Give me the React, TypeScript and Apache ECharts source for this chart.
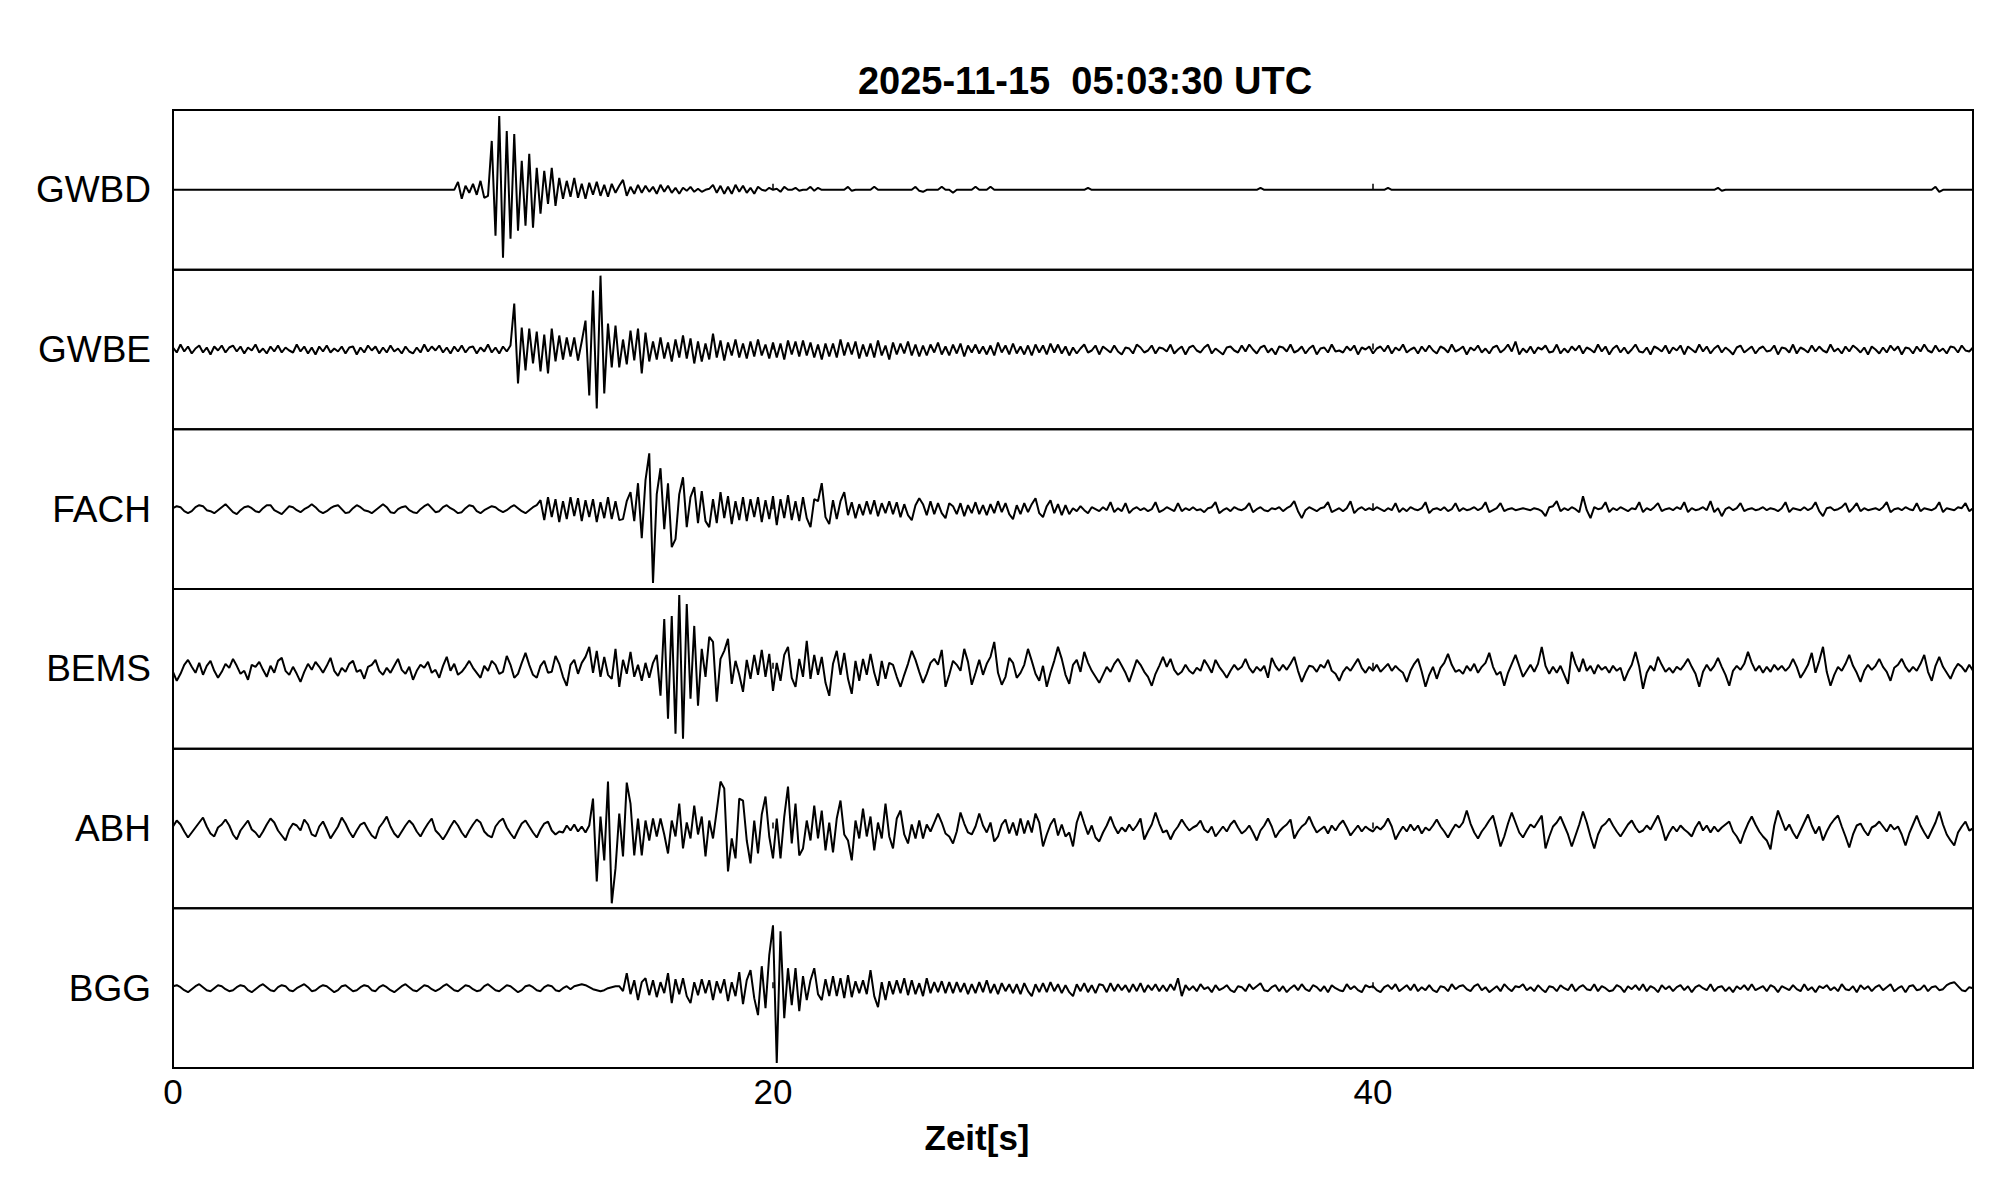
import React, { useEffect, useRef } from "react";
import * as echarts from "echarts";

// ---- texts ----
const TITLE = "2025-11-15  05:03:30 UTC";
const X_LABEL = "Zeit[s]";
const STATIONS = ["GWBD", "GWBE", "FACH", "BEMS", "ABH", "BGG"];

// ---- axis ----
const X_MIN = 0;
const X_MAX = 60;
const X_TICK = 20;
const Y_HALF = 80; // amplitude range of each trace panel (±)
const SAMPLE_STEP = 0.125; // seconds between samples

// ---- traces (one sample every 0.125 s, 8 per second, from 0 s to 60 s) ----
const GWBD = [
  0,0,0,0,0,0,0,0, 0,0,0,0,0,0,0,0,
  0,0,0,0,0,0,0,0, 0,0,0,0,0,0,0,0,
  0,0,0,0,0,0,0,0, 0,0,0,0,0,0,0,0,
  0,0,0,0,0,0,0,0, 0,0,0,0,0,0,0,0,
  0,0,0,0,0,0,0,0, 0,0,0,0,8,-9,4,-3,
  6,-5,9,-8,-6,49,-46,74, -68,59,-49,56,-41,29,-36,36,
  -38,22,-24,19,-14,22,-16,12, -9,9,-7,12,-8,6,-9,7,
  -5,8,-6,5,-7,6,-3,4, 10,-6,3,-4,5,-3,4,-2,
  3,-4,5,-2,4,-3,2,-4, 2,-1,3,-2,1,-2,0,1,
  5,-3,4,-4,3,-4,5,-2, 4,-3,2,-4,3,0,-1,2,
  0,1,-2,3,0,0,2,-1, 0,0,3,-1,2,0,0,0,
  0,0,0,0,3,-1,0,0, 0,0,0,3,0,0,0,0,
  0,0,0,0,0,0,3,-1, -2,0,0,0,0,3,0,0,
  -3,0,0,0,0,0,3,0, 0,0,3,0,0,0,0,0,
  0,0,0,0,0,0,0,0, 0,0,0,0,0,0,0,0,
  0,0,0,0,2,0,0,0, 0,0,0,0,0,0,0,0,
  0,0,0,0,0,0,0,0, 0,0,0,0,0,0,0,0,
  0,0,0,0,0,0,0,0, 0,0,0,0,0,0,0,0,
  0,0,2,0,0,0,0,0, 0,0,0,0,0,0,0,0,
  0,0,0,0,0,0,0,0, 0,0,0,0,0,0,0,0,
  0,0,0,0,2,0,0,0, 0,0,0,0,0,0,0,0,
  0,0,0,0,0,0,0,0, 0,0,0,0,0,0,0,0,
  0,0,0,0,0,0,0,0, 0,0,0,0,0,0,0,0,
  0,0,0,0,0,0,0,0, 0,0,0,0,0,0,0,0,
  0,0,0,0,0,0,0,0, 0,0,0,0,0,0,0,0,
  0,0,0,0,0,0,0,0, 0,0,0,0,2,-1,0,0,
  0,0,0,0,0,0,0,0, 0,0,0,0,0,0,0,0,
  0,0,0,0,0,0,0,0, 0,0,0,0,0,0,0,0,
  0,0,0,0,0,0,0,0, 0,0,0,0,0,0,0,0,
  0,0,0,0,0,0,3,-2, 0,0,0,0,0,0,0,0,
  0,
];

const GWBE = [
  2,-3,5,-2,3,-4,1,4, -3,2,-5,3,-1,4,-3,2,
  4,-2,3,-4,2,-1,5,-3, 1,-4,3,-2,4,-3,2,-1,
  -3,5,-2,3,-4,2,-5,3, -2,4,-3,1,-2,3,-4,2,
  3,-5,2,-3,4,-1,3,-4, 2,-3,4,-2,1,-4,3,-2,
  -4,2,-3,5,-2,3,-1,4, -3,2,-4,3,-2,4,-3,2,
  3,-4,2,-2,5,-3,2,-4, 3,-2,4,46,-34,22,-21,21,
  -14,18,-22,15,-24,21,-12,14, -10,12,-7,12,-11,8,29,-46,
  59,-59,74,-44,26,-18,24,-18, 10,-15,19,-11,21,-24,17,-12,
  8,-10,12,-9,7,-12,10,-8, 14,-9,11,-14,8,-12,6,-10,
  16,-8,9,-11,7,-6,10,-8, 6,-9,8,-7,10,-6,5,-9,
  7,-8,6,-10,9,-5,8,-7, 9,-6,7,-8,5,-10,6,-7,
  6,-8,10,-6,7,-5,8,-9, 5,-7,6,-8,9,-6,4,-10,
  7,-5,6,-4,8,-6,5,-7, 4,-6,5,-3,7,-5,3,-6,
  5,-4,6,-7,4,-3,5,-4, 3,-5,4,-6,7,-3,4,-5,
  6,-4,3,-5,4,-6,5,-3, 4,-5,6,-3,5,-4,3,-6,
  2,-4,1,5,-3,-1,4,-5, 3,0,-3,4,-2,-5,2,1,
  -4,5,2,-3,-1,4,-4,2, 1,-2,5,-4,0,3,-5,2,
  4,-1,-3,2,5,-4,1,-2, -5,2,3,-1,-3,4,-2,5,
  0,-4,2,4,-3,1,-5,3, 2,-2,5,-3,-1,3,-4,1,
  4,-5,1,2,-3,5,-2,-1, -3,3,-1,4,-5,2,0,3,
  -4,1,3,-2,4,-4,2,-1, 5,-3,0,2,-4,3,-2,4,
  -1,-4,3,1,-3,5,-2,0, 3,-5,2,-1,4,-3,1,-4,
  2,4,-3,0,5,-2,8,-5, 1,-3,3,-4,2,0,4,-3,
  -2,5,-4,1,-3,3,-1,4, -4,2,0,-3,5,-2,3,-5,
  1,4,-3,2,-4,0,5,-2, -3,2,-5,3,1,-2,4,-4,
  2,-1,4,-5,3,0,-3,5, -2,3,-4,1,4,-3,2,-1,
  -5,2,4,-3,0,3,-4,1, 3,-2,-1,4,-5,2,1,-3,
  5,-4,2,0,-3,4,-2,3, -1,-3,5,-2,1,-4,3,-2,
  4,1,-3,2,-5,3,0,-4, 2,-3,4,-1,3,-5,2,1,
  -4,3,-2,5,-1,-3,4,-2, 1,-4,3,2,-3,4,-1,-2,
  2,
];

const FACH = [
  1,3,2,-2,-4,-2,2,4, 3,-1,-2,-4,-1,2,5,1,
  -3,-5,-1,2,3,1,-2,-3, 1,4,4,-1,-3,-5,-1,3,
  2,-1,-3,0,2,5,2,-2, -4,-2,1,3,4,0,-4,-3,
  1,4,2,-1,-2,-4,-1,2, 5,2,-3,-4,0,2,3,-1,
  -3,-4,0,3,5,1,-3,-2, 2,4,1,-1,-4,-3,1,4,
  3,-2,-4,-1,1,3,2,-1, -3,-1,2,4,1,-2,-4,-1,
  2,4,9,-11,12,-8,10,-13, 8,-10,12,-7,11,-12,9,-8,
  10,-13,7,-9,12,-10,8,-11, -10,8,17,-12,26,-29,29,56,
  -74,15,41,-20,26,-38,-30,15, 32,-18,12,22,-14,18,-12,-18,
  10,-14,17,-9,13,-15,8,-11, 12,-12,10,-8,12,-13,9,-10,
  13,-16,10,-9,14,-11,8,-12, 12,-9,-18,10,8,26,-8,-15,
  9,-10,8,17,-6,7,-9,5, -6,8,-5,9,-7,6,-4,8,
  -5,7,-8,5,-6,-11,4,11, 5,-6,8,-5,6,-4,-9,6,
  3,-5,6,-7,4,-4,7,-5, 4,-6,5,-4,8,-3,6,-5,
  -10,4,-5,6,-3,5,11,-4, -8,3,9,-4,5,-6,4,-5,
  1,-2,3,-1,-4,2,0,-2, 2,-1,7,-3,1,-2,6,-4,
  0,2,-1,1,-2,0,7,-3, -1,2,0,-2,6,-2,1,-1,
  2,-1,0,-3,1,2,7,-4, -1,1,-2,2,0,-1,1,6,
  -3,0,2,-1,-2,1,0,2, -2,1,3,8,-2,-9,-1,2,
  0,-2,1,2,7,-3,-1,1, -2,1,8,-4,0,2,-1,1,
  -1,2,0,-2,1,-1,6,-3, 1,-2,2,0,-1,1,7,-4,
  0,1,-1,2,-2,0,6,-2, 1,-1,0,2,-1,1,7,-3,
  -1,1,6,-2,0,1,-1,0, 1,0,-1,1,0,-2,-7,2,
  3,8,-2,1,-1,2,0,-3, 13,-1,-9,2,0,1,7,-3,
  1,-1,2,0,-2,1,0,7, -3,1,-1,2,6,-2,0,1,
  -1,2,0,7,-3,1,-1,0, 2,-1,8,-3,1,-7,0,2,
  -1,1,6,-2,0,1,-1,0, 2,-1,1,0,-2,1,7,-3,
  1,0,-1,2,-1,1,7,-2, -7,1,2,-1,0,2,6,-3,
  1,6,-2,1,-1,0,1,-1, 2,7,-3,0,1,-1,2,0,
  -1,6,-2,1,0,-1,1,7, -3,1,0,-1,2,1,6,-2,
  1,
];

const BEMS = [
  -3,-12,-5,4,9,2,-4,6, -6,3,8,-2,-9,-3,5,1,
  10,3,-5,-2,-11,4,2,7, -1,-8,3,-4,8,11,-2,-6,
  2,-5,-13,-3,5,-1,7,2, -4,3,11,-2,-7,1,-3,5,
  8,-3,-1,-10,2,4,9,-2, -6,1,-4,3,10,-1,-5,2,
  -11,-2,4,1,7,-4,-1,-9, 3,12,-2,5,-6,-3,2,8,
  1,-4,-9,3,-2,8,4,-5, -3,13,4,-9,-5,6,16,4,
  -6,-9,3,8,-4,-3,13,5, -8,-17,4,9,-5,6,12,22,
  -4,18,-8,12,-6,-10,20,-18, 9,-5,17,-8,4,-12,6,-9,
  6,14,-27,50,-50,53,-65,74, -70,65,-30,43,-37,20,-8,32,
  27,-33,10,18,30,-15,8,-6, -23,9,-10,14,-6,19,-8,15,
  -22,6,-12,14,22,-9,-18,10, -8,28,-10,14,-6,12,-14,-27,
  5,18,-6,16,-10,-25,8,-12, 10,-6,15,-4,-17,8,-10,6,
  4,-8,-18,-6,5,18,9,-3, -14,-5,6,10,4,19,-18,-6,
  8,4,-2,20,7,-16,-4,9, -6,5,12,27,-4,-16,-8,11,
  6,-9,-4,4,20,8,-5,-12, 3,-18,-4,8,22,10,-6,-15,
  4,9,-3,17,6,-2,-8,-14, -6,2,-3,5,10,3,-4,-13,
  -2,9,4,-3,-8,-17,-5,3, 12,2,10,-1,-6,-3,4,-2,
  -5,1,-2,9,3,-4,9,2, -3,-9,-2,4,-1,2,10,1,
  -4,2,-2,3,-9,11,3,-2, 4,-1,5,12,-2,-13,-4,3,
  2,-3,4,1,9,-2,-5,-12, -3,2,-2,4,10,1,-4,2,
  -2,4,-3,1,5,-2,3,-1, -4,-13,-2,5,10,-3,-18,-6,
  2,-10,1,6,15,4,-3,-1, -5,3,-2,5,-4,2,6,16,
  2,-6,-3,-17,-4,5,14,3, -8,-2,4,-3,5,22,3,-5,
  2,-4,3,-6,-15,17,5,-3, 10,-2,3,-5,4,-1,2,-4,
  3,-2,1,-12,-3,4,17,2, -20,-4,3,-2,12,4,-3,1,
  -4,2,-1,4,10,2,-5,-18, -3,4,-2,3,11,2,-6,-17,
  -2,3,-1,5,17,6,-2,3, -4,2,-3,4,-1,3,-2,2,
  10,2,-9,-3,4,16,-4,8, 22,-3,-17,-6,2,-2,5,14,
  3,-4,-13,-2,4,-1,3,10, 2,-3,-12,1,4,10,2,-3,
  2,-2,5,14,-3,-12,3,12, 2,-4,-10,-1,5,2,-3,4,
  -2,
];

const ABH = [
  2,8,4,-3,-9,-4,1,6, 11,2,-5,-8,1,4,9,3,
  -6,-11,-2,3,8,-1,-4,-9, -3,4,10,6,-2,-7,-12,-1,
  5,3,-2,9,4,-6,-8,2, 7,-1,-10,-4,2,11,5,-3,
  -9,-2,4,6,-1,-7,-10,1, 6,12,2,-5,-9,-3,3,8,
  4,-3,-8,-1,5,10,-2,-6, -11,-5,2,8,3,-4,-9,-2,
  4,9,6,-3,-7,-9,2,7, 10,1,-5,-10,-2,5,8,2,
  -4,-9,-1,5,7,-2,-6,-3, -4,3,-2,4,-3,2,-4,3,
  30,-53,12,-32,47,-75,-40,15, -28,46,25,-27,10,-27,8,-12,
  10,-8,10,-6,-25,8,-8,25, -20,6,-10,23,-6,12,-28,8,
  -10,18,47,40,-43,-10,-30,30, 28,-12,-35,8,-25,14,32,-8,
  -30,10,-30,12,42,-15,25,-27, -20,8,-12,23,-10,18,-22,6,
  -24,10,28,-6,-12,-32,8,-10, 20,-8,12,-22,6,-10,25,-8,
  -20,10,18,-6,-15,4,-10,8, -10,4,-3,6,15,6,-5,-8,
  -15,-3,16,5,-4,-6,2,15, 3,-4,6,-13,-8,4,9,-5,
  6,-7,10,-5,8,-4,15,6, -18,-6,4,10,-7,4,-8,-4,
  -18,6,17,5,-6,3,-9,-13, -4,3,12,2,-5,1,-3,4,
  -2,3,10,-11,-3,4,16,5, -4,-2,-11,-3,2,9,3,-2,
  1,3,8,-1,-4,2,-8,-3, 2,-3,4,8,1,-5,-2,3,
  -4,-12,-2,3,10,2,-9,-3, 1,4,9,-10,-3,2,5,12,
  3,-4,-1,2,-5,3,-2,4, 8,1,-7,-2,3,-3,2,-1,
  -3,2,-1,3,10,2,-11,-4, 2,-3,4,-2,3,-5,1,-2,
  3,9,2,-3,-9,-2,4,1, 6,18,5,-4,-10,-3,2,8,
  13,-2,-18,-8,5,16,6,-4, -9,-2,4,1,7,13,-20,-8,
  2,6,12,3,-6,-18,-7,4, 17,6,-8,-20,-6,2,5,10,
  3,-3,-8,-2,4,8,1,-4, -2,3,-1,6,13,2,-12,-4,
  2,-3,3,-1,-4,-8,1,7, -2,3,-4,2,-3,1,4,7,
  -3,-8,-15,-4,5,12,4,-3, -8,-12,-21,3,18,8,-2,4,
  -4,-10,-2,6,14,3,-5,2, -12,-3,4,9,13,2,-8,-19,
  -6,3,5,-2,-7,1,3,7, 2,-3,4,-1,2,-6,-17,-5,
  4,13,3,-4,-10,-2,6,17, 4,-6,-12,-17,-4,2,7,-2,
  0,
];

const BGG = [
  2,3,1,-2,-4,-1,2,4, 1,-2,-3,0,3,2,-1,-3,
  -2,1,3,2,-2,-4,-1,2, 4,1,-2,-3,1,3,2,-2,
  -3,0,2,4,1,-3,-2,1, 3,2,-1,-4,-2,2,3,0,
  -3,-2,1,3,2,-2,-3,1, 3,1,-2,-4,-1,2,4,1,
  -2,-3,0,3,2,-1,-3,-1, 2,4,1,-2,-3,0,3,2,
  -1,-3,-2,2,4,1,-2,-3, 0,3,2,-1,-4,-2,2,3,
  1,-2,-3,1,3,2,-2,-3, 0,2,-1,2,3,4,3,1,
  -1,-2,-3,-2,0,1,2,2, -3,15,-6,8,-12,6,10,-7,
  8,-9,6,-5,15,-15,9,-6, 10,-8,-15,6,-7,9,-5,8,
  -12,7,-5,9,-13,6,-8,16, -16,8,18,-10,-27,22,-20,33,
  63,-75,57,-30,20,-17,20,-23, 12,-12,8,20,-6,-12,9,-8,
  12,-8,10,-10,13,-9,7,-5, 8,-6,18,-8,-19,6,-12,7,
  -6,8,-5,10,-7,8,-6,5, -8,10,-5,6,-4,7,-5,6,
  -5,6,-4,5,-6,4,-5,6, -4,8,-5,4,-6,5,-3,4,
  -5,4,-6,5,-3,-8,4,-4, 5,-4,6,-3,4,-5,3,-4,
  -8,4,-3,5,-4,3,-5,4, 3,-4,5,-3,4,-2,3,-4,
  4,-3,5,-4,3,-2,4,-3, 3,-3,4,-2,10,-8,3,-2,
  2,-3,4,-1,1,-4,3,-2, 0,3,-2,-4,2,1,-3,4,
  -1,2,5,-2,-3,1,3,-3, 2,-4,0,3,-2,4,-1,-3,
  3,1,-3,2,-4,3,0,-2, -3,4,-1,2,-2,-4,3,1,
  2,-2,-4,1,3,-1,4,-3, 0,3,-2,4,-3,1,-2,3,
  -2,-4,2,1,-3,4,-1,2, 3,-1,-3,2,4,-2,1,-4,
  -1,2,-3,4,0,-3,2,1, 4,-2,1,-3,3,-1,-4,2,
  1,-3,3,0,-2,4,-3,1, 3,-1,-2,4,-3,2,0,-3,
  -2,3,1,-4,2,-1,3,-2, 4,-3,2,0,-4,3,-1,2,
  -3,1,3,-2,2,-4,1,3, 0,-2,4,-3,1,2,-3,1,
  -4,2,-1,3,-2,4,-2,0, 2,-3,3,1,-4,2,0,-2,
  3,-1,-3,4,-2,1,-4,2, 0,3,-2,1,-3,4,-1,-2,
  2,-4,3,-1,2,-3,1,3, -2,1,4,-3,0,2,-4,2,
  3,-2,-1,3,-3,1,2,-2, -1,3,5,6,2,-2,-3,1,
  0,
];

const TRACES = [GWBD, GWBE, FACH, BEMS, ABH, BGG];

const FONT = "'Liberation Sans', Arial, Helvetica, sans-serif";

export default function App() {
  const ref = useRef<HTMLDivElement>(null);

  useEffect(() => {
    if (!ref.current) return;
    const chart = echarts.init(ref.current, null, { renderer: "svg" });

    const left = 173;
    const width = 1800;
    const top = 110;
    const panelH = 958 / STATIONS.length;

    const grid = STATIONS.map((_, i) => ({
      left,
      width,
      top: top + i * panelH,
      height: panelH,
      show: true,
      borderColor: "#000",
      borderWidth: 2,
      backgroundColor: "transparent",
      containLabel: false,
    }));

    const xAxis = STATIONS.map((_, i) => ({
      type: "value",
      gridIndex: i,
      min: X_MIN,
      max: X_MAX,
      interval: X_TICK,
      axisLine: { show: false },
      axisTick: { show: true, inside: true, length: 6, lineStyle: { color: "#000", width: 1.5 } },
      axisLabel: {
        show: i === STATIONS.length - 1,
        showMaxLabel: false,
        color: "#000",
        fontSize: 35,
        fontFamily: FONT,
        margin: 6,
      },
      splitLine: { show: false },
    }));

    const yAxis = STATIONS.map((_, i) => ({
      type: "value",
      gridIndex: i,
      min: -Y_HALF,
      max: Y_HALF,
      show: false,
      splitLine: { show: false },
    }));

    const series = TRACES.map((vals, i) => ({
      type: "line",
      name: STATIONS[i],
      xAxisIndex: i,
      yAxisIndex: i,
      data: vals.map((v, k) => [k * SAMPLE_STEP, v]),
      showSymbol: false,
      symbol: "none",
      silent: true,
      lineStyle: { color: "#000", width: 2 },
    }));

    const labels = STATIONS.map((name, i) => ({
      type: "text",
      x: 151,
      y: top + (i + 0.5) * panelH,
      silent: true,
      style: {
        text: name,
        font: `37px ${FONT}`,
        fill: "#000",
        textAlign: "right",
        align: "right",
        textVerticalAlign: "middle",
        verticalAlign: "middle",
      },
    }));

    chart.setOption({
      animation: false,
      backgroundColor: "#fff",
      grid,
      xAxis,
      yAxis,
      series,
      graphic: [
        ...labels,
        {
          type: "text",
          x: 1085,
          y: 81,
          silent: true,
          style: {
            text: TITLE,
            font: `bold 38px ${FONT}`,
            fill: "#000",
            textAlign: "center",
            align: "center",
            textVerticalAlign: "middle",
            verticalAlign: "middle",
          },
        },
        {
          type: "text",
          x: 977,
          y: 1137,
          silent: true,
          style: {
            text: X_LABEL,
            font: `bold 35px ${FONT}`,
            fill: "#000",
            textAlign: "center",
            align: "center",
            textVerticalAlign: "middle",
            verticalAlign: "middle",
          },
        },
      ],
    });

    return () => {
      chart.dispose();
    };
  }, []);

  return (
    <div
      ref={ref}
      style={{ position: "fixed", left: 0, top: 0, width: 2005, height: 1202, background: "#fff" }}
    />
  );
}
